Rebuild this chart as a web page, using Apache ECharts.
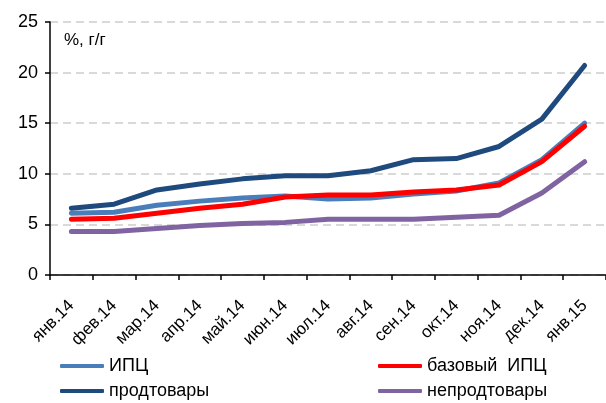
<!DOCTYPE html>
<html>
<head>
<meta charset="utf-8">
<script src="https://cdn.jsdelivr.net/npm/echarts@6/dist/echarts.min.js"></script>
<style>
  html, body { margin: 0; padding: 0; background: #fff; }
  #chart { width: 606px; height: 403px; }
</style>
</head>
<body>
<div id="chart"></div>
<script>
// месяцы
const months = ['янв.14', 'фев.14', 'мар.14', 'апр.14', 'май.14', 'июн.14', 'июл.14',
  'авг.14', 'сен.14', 'окт.14', 'ноя.14', 'дек.14', 'янв.15'];

const cpi = [6.1, 6.2, 6.9, 7.3, 7.6, 7.8, 7.5, 7.6, 8.0, 8.3, 9.1, 11.4, 15.0]; // ИПЦ
const coreCpi = [5.5, 5.6, 6.1, 6.6, 7.0, 7.7, 7.9, 7.9, 8.2, 8.4, 8.9, 11.2, 14.7]; // базовый ИПЦ
const food = [6.6, 7.0, 8.4, 9.0, 9.5, 9.8, 9.8, 10.3, 11.4, 11.5, 12.7, 15.4, 20.7]; // продтовары
const nonFood = [4.3, 4.3, 4.6, 4.9, 5.1, 5.2, 5.5, 5.5, 5.5, 5.7, 5.9, 8.1, 11.2]; // непродтовары

const FONT = '"Liberation Sans", Arial, sans-serif';

const lineSeries = (name, data, color, width) => ({
  name,
  type: 'line',
  data,
  symbol: 'none',
  lineStyle: { color, width, cap: 'round', join: 'round' },
  itemStyle: { color },
});

// одна легенда на каждый пункт, чтобы расставить их в две колонки
const legendItem = (name, left, top) => ({
  data: [name],
  left,
  top,
  padding: 0,
  itemWidth: 44,
  itemHeight: 4,
  icon: 'roundRect',
  formatter: (n) => n.replace(' ', '  '),
  textStyle: { fontFamily: FONT, fontSize: 18, color: '#000' },
});

const chart = echarts.init(document.getElementById('chart'));
chart.setOption({
  animation: false,
  textStyle: { fontFamily: FONT },
  grid: { left: 50, top: 22, width: 557, bottom: 128 },
  graphic: [{
    type: 'text',
    left: 64,
    top: 32,
    style: { text: '%, г/г', font: '17px ' + FONT, fill: '#000' },
  }],
  legend: [
    legendItem('ИПЦ', 60, 357),
    legendItem('продтовары', 60, 382),
    legendItem('базовый ИПЦ', 378, 357),
    legendItem('непродтовары', 378, 382),
  ],
  xAxis: {
    type: 'category',
    data: months,
    boundaryGap: true,
    axisLine: { lineStyle: { color: '#000', width: 1.5 } },
    axisTick: { show: true, length: 5, lineStyle: { color: '#000', width: 1.5 } },
    axisLabel: {
      rotate: 45,
      margin: 28,
      fontSize: 17,
      color: '#000',
      fontFamily: FONT,
      interval: 0,
    },
  },
  yAxis: {
    type: 'value',
    min: 0,
    max: 25,
    interval: 5,
    axisLine: { show: true, lineStyle: { color: '#000', width: 1.5 } },
    axisTick: { show: true, length: 5, lineStyle: { color: '#000', width: 1.5 } },
    axisLabel: { fontSize: 18, color: '#000', fontFamily: FONT, margin: 12 },
    splitLine: { lineStyle: { color: '#d9d9d9', width: 2, type: [8, 5] } },
  },
  series: [
    lineSeries('ИПЦ', cpi, '#4a7ebb', 5),
    lineSeries('продтовары', food, '#1f4a7d', 5),
    lineSeries('непродтовары', nonFood, '#8064a2', 5),
    lineSeries('базовый ИПЦ', coreCpi, '#ff0000', 5),
  ],
});
</script>
</body>
</html>
